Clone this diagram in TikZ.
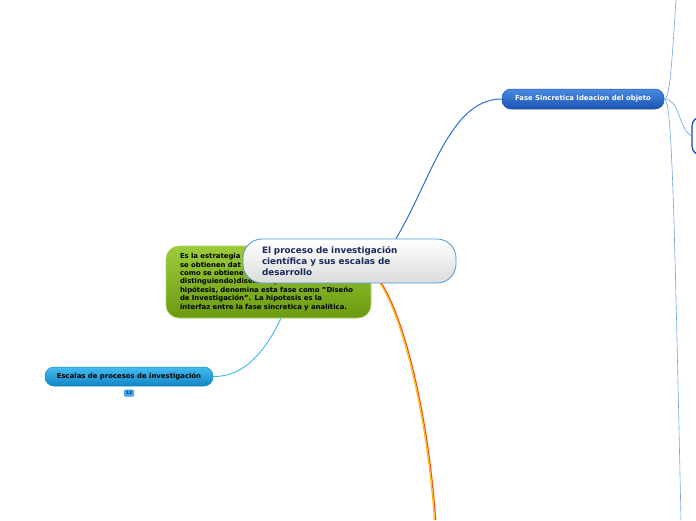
\documentclass[tikz,border=0pt]{standalone}
\usepackage{fontspec}
\setmainfont{DejaVu Sans}
\usetikzlibrary{calc}
\definecolor{cborder}{HTML}{4A9AD8}
\definecolor{ctext}{HTML}{1A2A5A}
\definecolor{gtop}{HTML}{9CCB3A}
\definecolor{gbot}{HTML}{6B9A12}
\definecolor{ftop}{HTML}{4A8CE2}
\definecolor{fbot}{HTML}{1A52B2}
\definecolor{etop}{HTML}{44BCF0}
\definecolor{ebot}{HTML}{1284C4}
\definecolor{linkblue}{HTML}{2A6FD8}
\definecolor{lightlink}{HTML}{6FA4EC}
\definecolor{skyline}{HTML}{3CB8EA}
\definecolor{corange}{HTML}{F2561E}
\definecolor{cyellow}{HTML}{FFB800}
\tikzset{
  centralbox/.style={rounded corners=19pt, draw=cborder, line width=0.8pt, top color=white, bottom color=black!14,
    minimum width=213pt, minimum height=44pt, text width=175pt, align=left, inner sep=0pt,
    font=\bfseries\fontsize{8.8}{11}\selectfont, text=ctext},
  greenbox/.style={rounded corners=13pt, draw=gtop!80!white, line width=0.6pt, top color=gtop, bottom color=gbot,
    minimum width=205pt, minimum height=72pt, text width=177pt, align=left, inner sep=0pt,
    font=\bfseries\fontsize{6.9}{8.4}\selectfont, text=black},
  fasebox/.style={rounded corners=9pt, draw=fbot, line width=0.5pt, top color=ftop, bottom color=fbot,
    minimum width=162pt, minimum height=20pt, inner sep=0pt, font=\bfseries\fontsize{6.9}{7}\selectfont, text=white},
  escbox/.style={rounded corners=9pt, draw=ebot, line width=0.5pt, top color=etop, bottom color=ebot,
    minimum width=168pt, minimum height=19pt, inner sep=0pt, font=\bfseries\fontsize{6.9}{7}\selectfont, text=black},
  badge/.style={rounded corners=1pt, fill=etop!90!blue, minimum width=10pt, minimum height=7pt, inner sep=0pt,
    font=\bfseries\fontsize{4.5}{4.5}\selectfont, text=ctext},
  sidebox/.style={rounded corners=9pt, draw=fbot!80!blue, line width=1.2pt, fill=white,
    minimum width=40pt, minimum height=38pt, inner sep=0pt},
  thinlink/.style={draw=lightlink, line width=0.6pt},
}
\begin{document}
\begin{tikzpicture}[x=1pt,y=-1pt]
\useasboundingbox (0,0) rectangle (696,520);
\clip (0,0) rectangle (696,520);

% right partial node and lines
\node[sidebox] (side) at (712,136) {};
\node[fasebox] (fase) at (583,99) {Fase Sincretica Ideacion del objeto};
\coordinate (topend) at (676,0);
\coordinate (botend) at (681,520);
\draw[thinlink] (fase.east) .. controls (670,99) and (672,60) .. (topend);
\draw[thinlink] (fase.east) .. controls (672,99) and (674,200) .. (botend);
\draw[thinlink] (fase.east) .. controls (680,99) and (678,128) .. (side.west);

% green node
\node[greenbox] (green) at (268.5,282) {Es la estrategia\\se obtienen dat\\como se obtiene\\distinguiendo)diseñada para hacer una\\hipótesis, denomina esta fase como "Diseño\\de Investigación". La hipotesis es la\\interfaz entre la fase sincretica y analítica.};

% escalas node
\node[escbox] (esc) at (129,376.5) {Escalas de procesos de investigación};
\node[badge] (num) at (129,393) {12};
\draw[skyline, line width=0.9pt] ([xshift=12.5pt]green.south) .. controls (266,350) and (245,377) .. (esc.east);

% orange link
\coordinate (orangeend) at (435,520);
\draw[corange, line width=1.2pt] (380.7,282) .. controls (405.7,320) and (428.7,420) .. ([xshift=0.7pt]orangeend);
\draw[cyellow, line width=1.1pt] (379.4,282) .. controls (404.4,320) and (427.4,420) .. ([xshift=-0.6pt]orangeend);

% central node
\node[centralbox] (c) at (349.5,261) {El proceso de investigación\\científica y sus escalas de\\desarrollo};
\draw[linkblue, line width=1pt] ([xshift=46.5pt]c.north) .. controls (432,178) and (450,99) .. (fase.west);
\end{tikzpicture}
\end{document}
